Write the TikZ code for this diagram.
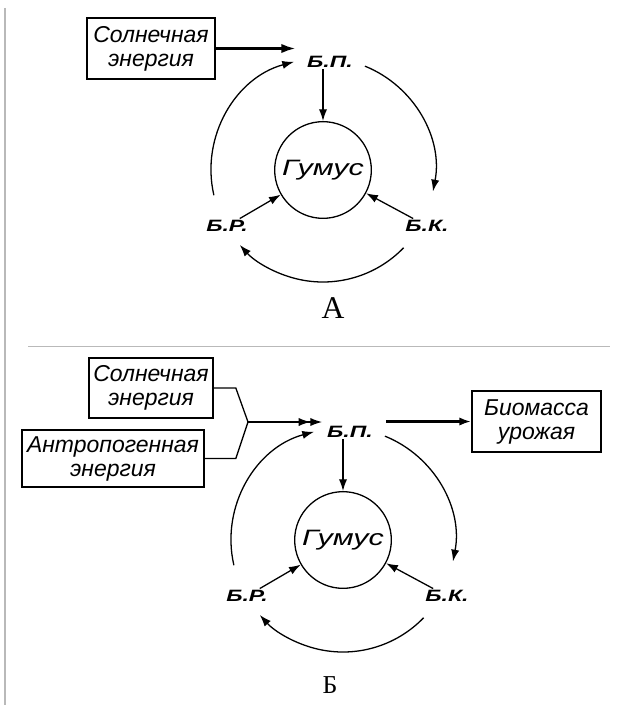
\documentclass[tikz,border=0pt]{standalone}
\usepackage{fontspec}
\setmainfont{Liberation Serif}
\setsansfont{Liberation Sans}
\newfontfamily\widesans[FakeStretch=1.37]{Liberation Sans}
\newfontfamily\labsans[FakeStretch=1.4]{Liberation Sans}
\usepackage{tikz}
\usetikzlibrary{calc,arrows.meta}
\newcommand{\boxfont}{\sffamily\itshape\fontsize{19.6}{20.5}\selectfont}
\newcommand{\humfont}{\widesans\itshape\fontsize{19}{20}\selectfont}
\newcommand{\labfont}{\labsans\bfseries\itshape\fontsize{14}{15}\selectfont}

\begin{document}
\begin{tikzpicture}[x=0.03cm,y=-0.03cm,line width=1.1pt,
      >={Latex[length=10pt,width=7pt]},
      ebox/.style={draw,line width=1.4pt,align=center,inner sep=0pt,font=\boxfont},
      lab/.style={inner sep=1pt,font=\labfont},
      hum/.style={circle,draw,minimum size=2.9cm,inner sep=0pt,font=\humfont},
      heavy/.style={line width=2pt}]
    \useasboundingbox (0,0) rectangle (618,705);
    \draw[gray!55,line width=1pt] (5,8) -- (5,705);
    \draw[gray!55,line width=0.8pt] (28,346) -- (610,346);

    % the two cycles
    \foreach \n/\cx/\cy in {A/323/170,B/343/540}{
      \begin{scope}[shift={(\cx,\cy)}]
        \node[hum] (hum\n) at (0,0) {Гумус};
        \node[lab] (bp\n) at (7,-108) {Б.П.};
        \node[lab] (br\n) at (-96,56) {Б.Р.};
        \node[lab] (bk\n) at (104,56) {Б.К.};
        \coordinate (la\n) at (167:112);
        \coordinate (ra\n) at (292:112);
        \coordinate (ba\n) at (44:112);
        \draw[->] (hum\n.north |- bp\n.south) -- (hum\n.north);
        \draw[->] (br\n) -- (hum\n);
        \draw[->] (bk\n) -- (hum\n);
        \draw[->] (la\n) arc[start angle=167,end angle=255,radius=112];
        \draw[->] (ra\n) arc[start angle=292,end angle=371,radius=112];
        \draw[->] (ba\n) arc[start angle=44,end angle=138,radius=112];
      \end{scope}
    }

    % A
    \node[ebox,minimum width=3.84cm,minimum height=1.83cm] (sunA) at (151,48.5)
      {Солнечная\\энергия};
    \draw[->,heavy,>={Latex[length=12pt,width=8pt]}] (sunA.east)
      -- ([xshift=-0.3cm]sunA.east -| bpA.west);
    \node[font=\fontsize{27}{27}\selectfont] (capA) at (333,308) {А};

    % Б
    \node[ebox,minimum width=3.72cm,minimum height=1.8cm] (sunB) at (151,388)
      {Солнечная\\энергия};
    \node[ebox,minimum width=5.46cm,minimum height=1.71cm] (antB) at (113,458.5)
      {Антропогенная\\энергия};
    \node[ebox,minimum width=3.87cm,minimum height=1.83cm] (bioB) at (536.5,421.5)
      {Биомасса\\урожая};
    \coordinate (jB) at (248,422);
    \draw (sunB.east) -- ++(22,0) -- (jB) -- ($(antB.east)+(31,0)$) -- (antB.east);
    \draw[-{Latex[length=10pt,width=7pt] Latex[length=10pt,width=7pt]}]
      (jB) -- ([xshift=-0.1cm]jB -| bpB.west);
    \draw[->,heavy,shorten <=0.35cm] (bpB.east |- bioB.west) -- (bioB.west);
    \node[font=\fontsize{22}{22}\selectfont] (capB) at (330,685) {Б};
\end{tikzpicture}
\end{document}
